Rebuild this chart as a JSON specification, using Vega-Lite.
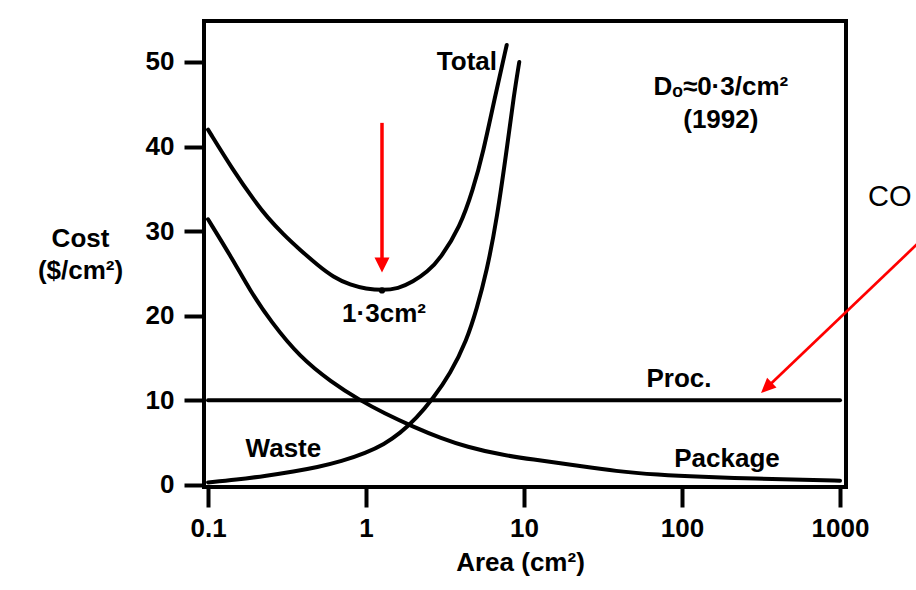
{
  "$schema": "https://vega.github.io/schema/vega-lite/v6.json",
  "width": 642,
  "height": 466,
  "autosize": {"type": "none"},
  "padding": {"left": 204, "top": 21, "right": 70, "bottom": 103},
  "background": "white",
  "config": {
    "font": "Liberation Sans",
    "view": {"stroke": "black", "strokeWidth": 4},
    "axis": {
      "grid": false,
      "domain": false,
      "tickColor": "black",
      "tickWidth": 4,
      "tickSize": 20,
      "labelColor": "black",
      "labelFont": "Liberation Sans",
      "labelFontSize": 26,
      "labelFontWeight": "bold",
      "labelFlush": false,
      "labelOverlap": false,
      "labelBound": false,
      "titleColor": "black",
      "titleFont": "Liberation Sans",
      "titleFontSize": 26,
      "titleFontWeight": "bold"
    }
  },
  "datasets": {
    "curves": [
      {"curve": "Total", "area": 0.1, "cost": 42.0},
      {"curve": "Total", "area": 0.144, "cost": 37.2},
      {"curve": "Total", "area": 0.2, "cost": 33.4},
      {"curve": "Total", "area": 0.236, "cost": 31.7},
      {"curve": "Total", "area": 0.3, "cost": 29.6},
      {"curve": "Total", "area": 0.382, "cost": 27.8},
      {"curve": "Total", "area": 0.5, "cost": 25.9},
      {"curve": "Total", "area": 0.618, "cost": 24.6},
      {"curve": "Total", "area": 0.8, "cost": 23.6},
      {"curve": "Total", "area": 1.0, "cost": 23.2},
      {"curve": "Total", "area": 1.26, "cost": 23.0},
      {"curve": "Total", "area": 1.6, "cost": 23.2},
      {"curve": "Total", "area": 1.98, "cost": 24.0},
      {"curve": "Total", "area": 2.45, "cost": 25.2},
      {"curve": "Total", "area": 2.94, "cost": 26.7},
      {"curve": "Total", "area": 3.94, "cost": 30.5},
      {"curve": "Total", "area": 4.75, "cost": 34.9},
      {"curve": "Total", "area": 5.5, "cost": 39.2},
      {"curve": "Total", "area": 6.55, "cost": 45.9},
      {"curve": "Total", "area": 7.77, "cost": 52.0},
      {"curve": "Waste", "area": 0.1, "cost": 0.3},
      {"curve": "Waste", "area": 0.15, "cost": 0.6},
      {"curve": "Waste", "area": 0.236, "cost": 1.1},
      {"curve": "Waste", "area": 0.35, "cost": 1.6},
      {"curve": "Waste", "area": 0.49, "cost": 2.1},
      {"curve": "Waste", "area": 0.7, "cost": 2.8},
      {"curve": "Waste", "area": 1.0, "cost": 3.8},
      {"curve": "Waste", "area": 1.3, "cost": 4.8},
      {"curve": "Waste", "area": 1.64, "cost": 6.1},
      {"curve": "Waste", "area": 2.09, "cost": 7.9},
      {"curve": "Waste", "area": 2.65, "cost": 10.2},
      {"curve": "Waste", "area": 3.41, "cost": 13.1},
      {"curve": "Waste", "area": 4.34, "cost": 17.1},
      {"curve": "Waste", "area": 5.02, "cost": 20.8},
      {"curve": "Waste", "area": 5.81, "cost": 25.3},
      {"curve": "Waste", "area": 6.71, "cost": 31.2},
      {"curve": "Waste", "area": 7.93, "cost": 40.8},
      {"curve": "Waste", "area": 8.6, "cost": 45.9},
      {"curve": "Waste", "area": 9.33, "cost": 50.0},
      {"curve": "Package", "area": 0.1, "cost": 31.4},
      {"curve": "Package", "area": 0.144, "cost": 26.6},
      {"curve": "Package", "area": 0.184, "cost": 23.0},
      {"curve": "Package", "area": 0.25, "cost": 19.3},
      {"curve": "Package", "area": 0.382, "cost": 15.1},
      {"curve": "Package", "area": 0.6, "cost": 12.2},
      {"curve": "Package", "area": 0.916, "cost": 10.0},
      {"curve": "Package", "area": 1.3, "cost": 8.5},
      {"curve": "Package", "area": 1.98, "cost": 6.9},
      {"curve": "Package", "area": 3.0, "cost": 5.5},
      {"curve": "Package", "area": 4.35, "cost": 4.5},
      {"curve": "Package", "area": 7.0, "cost": 3.6},
      {"curve": "Package", "area": 11.4, "cost": 3.0},
      {"curve": "Package", "area": 20, "cost": 2.4},
      {"curve": "Package", "area": 38.8, "cost": 1.6},
      {"curve": "Package", "area": 70, "cost": 1.2},
      {"curve": "Package", "area": 130, "cost": 0.95},
      {"curve": "Package", "area": 300, "cost": 0.75},
      {"curve": "Package", "area": 600, "cost": 0.6},
      {"curve": "Package", "area": 1000, "cost": 0.5},
      {"curve": "Proc.", "area": 0.1, "cost": 10},
      {"curve": "Proc.", "area": 1000, "cost": 10}
    ],
    "centeredLabels": [
      {"label": "Dₒ≈0·3/cm²", "area": 176, "cost": 46.1},
      {"label": "(1992)", "area": 176, "cost": 42.2},
      {"label": "1·3cm²", "area": 1.3, "cost": 19.3},
      {"label": "Proc.", "area": 95.7, "cost": 11.6},
      {"label": "Package", "area": 192.7, "cost": 2.1},
      {"label": "Waste", "area": 0.3, "cost": 3.3}
    ]
  },
  "layer": [
    {
      "data": {"name": "curves"},
      "mark": {"type": "line", "color": "black", "strokeWidth": 4, "interpolate": "basis", "strokeCap": "round"},
      "encoding": {
        "x": {
          "field": "area",
          "type": "quantitative",
          "scale": {"type": "log", "domain": [0.0943, 1091], "nice": false},
          "axis": {
            "values": [0.1, 1, 10, 100, 1000],
            "format": "~g",
            "labelPadding": 8,
            "title": "Area (cm²)",
            "titleX": 316,
            "titleY": 83,
            "titleAlign": "center",
            "titleBaseline": "alphabetic"
          }
        },
        "y": {
          "field": "cost",
          "type": "quantitative",
          "scale": {"domain": [-0.24, 54.84], "nice": false, "zero": false},
          "axis": {
            "values": [0, 10, 20, 30, 40, 50],
            "labelPadding": 10,
            "title": ["Cost", "($/cm²)"],
            "titleAngle": 0,
            "titleX": -124,
            "titleY": 225,
            "titleAlign": "center",
            "titleBaseline": "alphabetic",
            "titleLineHeight": 32
          }
        },
        "detail": {"field": "curve"}
      }
    },
    {
      "data": {"values": [{"area": 1.262, "cost": 23.0}]},
      "mark": {"type": "point", "filled": true, "color": "black", "size": 40, "opacity": 1},
      "encoding": {
        "x": {"field": "area", "type": "quantitative"},
        "y": {"field": "cost", "type": "quantitative"}
      }
    },
    {
      "data": {"values": [{"area": 1.262, "cost": 42.8, "area2": 1.262, "cost2": 26.3}]},
      "mark": {"type": "rule", "color": "#ff0000", "strokeWidth": 3.5},
      "encoding": {
        "x": {"field": "area", "type": "quantitative"},
        "y": {"field": "cost", "type": "quantitative"},
        "x2": {"field": "area2"},
        "y2": {"field": "cost2"}
      }
    },
    {
      "data": {"values": [{"area": 1.262, "cost": 25.1}]},
      "mark": {"type": "point", "shape": "M0,0L-0.5,-1L0.5,-1Z", "filled": true, "color": "#ff0000", "size": 900, "opacity": 1, "strokeWidth": 0},
      "encoding": {
        "x": {"field": "area", "type": "quantitative"},
        "y": {"field": "cost", "type": "quantitative"}
      }
    },
    {
      "data": {"values": [{"area": 4055, "cost": 30.6, "area2": 350, "cost2": 11.65}]},
      "mark": {"type": "rule", "color": "#ff0000", "strokeWidth": 2.7},
      "encoding": {
        "x": {"field": "area", "type": "quantitative"},
        "y": {"field": "cost", "type": "quantitative"},
        "x2": {"field": "area2"},
        "y2": {"field": "cost2"}
      }
    },
    {
      "data": {"values": [{"area": 316.2, "cost": 10.87}]},
      "mark": {"type": "point", "shape": "M0,0L-0.45,-1L0.45,-1Z", "filled": true, "color": "#ff0000", "size": 900, "opacity": 1, "strokeWidth": 0, "angle": 46},
      "encoding": {
        "x": {"field": "area", "type": "quantitative"},
        "y": {"field": "cost", "type": "quantitative"}
      }
    },
    {
      "data": {"name": "centeredLabels"},
      "mark": {"type": "text", "align": "center", "baseline": "alphabetic", "fontSize": 26, "fontWeight": "bold", "color": "black", "font": "Liberation Sans"},
      "encoding": {
        "x": {"field": "area", "type": "quantitative"},
        "y": {"field": "cost", "type": "quantitative"},
        "text": {"field": "label"}
      }
    },
    {
      "data": {"values": [{"label": "Total", "area": 6.75, "cost": 49.05}]},
      "mark": {"type": "text", "align": "right", "baseline": "alphabetic", "fontSize": 26, "fontWeight": "bold", "color": "black", "font": "Liberation Sans"},
      "encoding": {
        "x": {"field": "area", "type": "quantitative"},
        "y": {"field": "cost", "type": "quantitative"},
        "text": {"field": "label"}
      }
    },
    {
      "data": {"values": [{"label": "CO", "area": 1503, "cost": 33.0}]},
      "mark": {"type": "text", "align": "left", "baseline": "alphabetic", "fontSize": 29, "fontWeight": "normal", "color": "black", "font": "Liberation Sans"},
      "encoding": {
        "x": {"field": "area", "type": "quantitative"},
        "y": {"field": "cost", "type": "quantitative"},
        "text": {"field": "label"}
      }
    }
  ]
}
